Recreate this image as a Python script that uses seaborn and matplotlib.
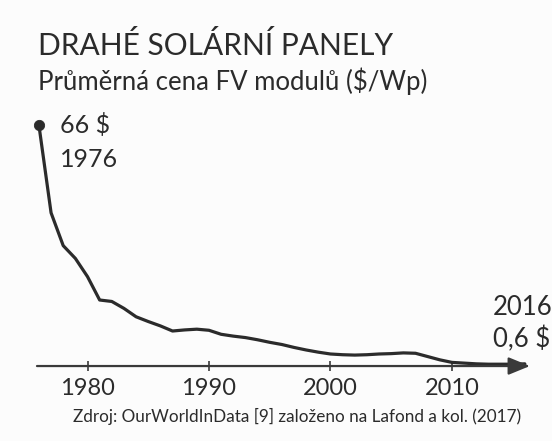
import pandas as pd
import matplotlib.pyplot as plt
import seaborn as sns

# Průměrná cena FV modulů ($/Wp)
years = list(range(1976, 2017))
price = [66, 42, 33, 29.5, 24.5, 18.1, 17.7, 15.8, 13.5, 12.2,
         11, 9.6, 9.9, 10.1, 9.8, 8.7, 8.2, 7.8, 7.2, 6.5,
         5.9, 5.1, 4.4, 3.8, 3.3, 3.1, 3.0, 3.1, 3.3, 3.4,
         3.6, 3.5, 2.6, 1.7, 1.0, 0.8, 0.6, 0.5, 0.5, 0.5,
         0.6]
tick_years = [1980, 1990, 2000, 2010]
tick_labels = ['1980', '1990', '2000', '2010']

title = 'DRAHÉ SOLÁRNÍ PANELY'
subtitle = 'Průměrná cena FV modulů ($/Wp)'
source = 'Zdroj: OurWorldInData [9] založeno na Lafond a kol. (2017)'

df = pd.DataFrame({'Rok': years, 'Cena': price})

sns.set_theme(style='white')
plt.rcParams['font.family'] = ['Lato', 'DejaVu Sans']

ink = '#2b2b2b'

fig = plt.figure(figsize=(5.52, 4.41), dpi=100, facecolor='#fcfcfc')
ax = fig.add_axes([0.067, 0.170, 0.893, 0.579])
ax.set_facecolor('none')

sns.lineplot(data=df, x='Rok', y='Cena', ax=ax, color=ink, linewidth=2.3,
             clip_on=False)
sns.scatterplot(data=df.iloc[[0]], x='Rok', y='Cena', ax=ax, color=ink,
                s=55, edgecolor=ink, zorder=5, clip_on=False)

ax.set_xlim(1975.84, 2016.42)
ax.set_ylim(0, 70)

for side in ['top', 'right', 'left', 'bottom']:
    ax.spines[side].set_visible(False)

# osa x se šipkou
ax.annotate('', xy=(1.0, 0), xytext=(0.0, 0), xycoords='axes fraction',
            textcoords='axes fraction',
            arrowprops=dict(arrowstyle='-|>,head_length=1.1,head_width=0.45',
                            color='#3a3a3a', lw=1.6, shrinkA=0, shrinkB=0))

ax.set_xticks(tick_years)
ax.set_xticklabels(tick_labels)
ax.tick_params(axis='x', direction='inout', length=7, width=1.2,
               color='#3a3a3a', labelsize=17, labelcolor=ink, pad=5,
               bottom=True)
ax.set_yticks([])
ax.set_xlabel('')
ax.set_ylabel('')

# popisky začátku a konce
ax.annotate('66 $', xy=(years[0], price[0]), xytext=(21, -8),
            textcoords='offset pixels', fontsize=18, color=ink,
            ha='left', va='baseline')
ax.annotate('1976', xy=(years[0], price[0]), xytext=(21, -42),
            textcoords='offset pixels', fontsize=18, color=ink,
            ha='left', va='baseline')
ax.annotate('2016', xy=(years[-1], price[-1]), xytext=(-32, 49),
            textcoords='offset pixels', fontsize=18.5, color=ink,
            ha='left', va='baseline', annotation_clip=False)
ax.annotate('0,6 $', xy=(years[-1], price[-1]), xytext=(-32, 17),
            textcoords='offset pixels', fontsize=18.5, color=ink,
            ha='left', va='baseline', annotation_clip=False)

fig.text(0.069, 0.875, title, fontsize=21.5, color=ink, va='baseline')
fig.text(0.069, 0.796, subtitle, fontsize=18.5, color=ink, va='baseline')
fig.text(0.538, 0.043, source, fontsize=12.3, color=ink, va='baseline',
         ha='center')

fig.savefig('out.png', dpi=100, facecolor=fig.get_facecolor())
